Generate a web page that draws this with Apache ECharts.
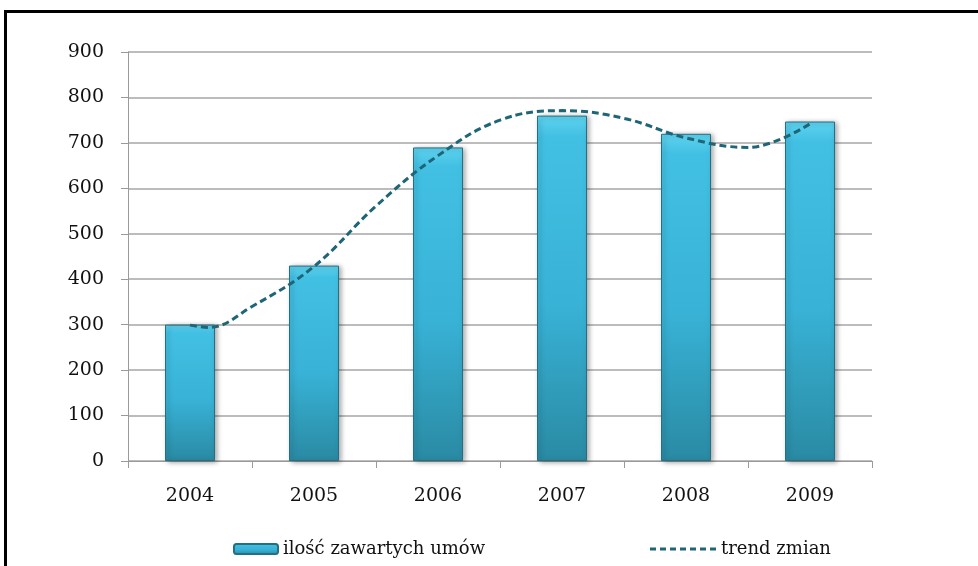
<!DOCTYPE html>
<html>
<head>
<meta charset="utf-8">
<script src="https://cdn.jsdelivr.net/npm/echarts@6/dist/echarts.min.js"></script>
<style>html,body{margin:0;padding:0;background:#fff;}#c{width:978px;height:566px;}</style>
</head>
<body>
<div id="c"></div>
<script>
var years = ['2004', '2005', '2006', '2007', '2008', '2009'];
var contracts = [300, 430, 690, 760, 720, 747];
// trend line at category positions (index units)
var trendPos = [0, 0.15, 0.5, 1, 1.5, 2, 2.5, 3, 3.5, 4, 4.5, 5];
var trendVal = [299, 294, 340, 428, 561, 672, 750, 771, 754, 711, 690, 742];
var yTicks = {min: 0, max: 900, interval: 100};
var barName = 'ilość zawartych umów';
var trendName = 'trend zmian';

var font = 'DejaVu Serif';
var chart = echarts.init(document.getElementById('c'));
var trendData = trendPos.map(function (p, i) { return [p, trendVal[i]]; });

// dashed-line legend icon (7 dashes)
var dashPath = 'path://';
for (var k = 0; k < 7; k++) {
  var x0 = k * 10;
  dashPath += 'M' + x0 + ',0h6v3h-6z';
}

chart.setOption({
  backgroundColor: '#fff',
  animation: false,
  graphic: [{
    type: 'rect',
    shape: {x: 5.5, y: 11.5, width: 1000, height: 600},
    style: {fill: 'none', stroke: '#000', lineWidth: 3},
    z: 0
  }],
  grid: {left: 128, right: 106, top: 52, bottom: 105},
  legend: [{
    data: [barName],
    left: 228, top: 535,
    itemWidth: 44, itemHeight: 10, itemGap: 8,
    textStyle: {fontFamily: font, fontSize: 18, color: '#111'}
  }, {
    data: [{name: trendName, icon: dashPath, itemStyle: {color: '#1e6577', borderWidth: 0}}],
    left: 645, top: 535,
    itemWidth: 66, itemHeight: 3, itemGap: 6,
    textStyle: {fontFamily: font, fontSize: 18, color: '#111'}
  }],
  xAxis: [{
    type: 'category',
    data: years,
    boundaryGap: true,
    axisLine: {lineStyle: {color: '#9a9a9a', width: 1}},
    axisTick: {show: true, length: 7, lineStyle: {color: '#9a9a9a'}},
    axisLabel: {fontFamily: font, fontSize: 19, color: '#111', margin: 26},
    splitLine: {show: false}
  }, {
    type: 'value',
    min: -0.5, max: 5.5,
    show: false
  }],
  yAxis: {
    type: 'value',
    min: yTicks.min, max: yTicks.max, interval: yTicks.interval,
    axisLine: {show: true, onZero: false, lineStyle: {color: '#9a9a9a', width: 1}},
    axisTick: {show: true, length: 7, lineStyle: {color: '#9a9a9a'}},
    axisLabel: {fontFamily: font, fontSize: 19, color: '#111', margin: 24},
    splitLine: {lineStyle: {color: '#a6a6a6', width: 1.5}}
  },
  series: [{
    name: barName,
    type: 'bar',
    data: contracts,
    barWidth: 50,
    itemStyle: {
      color: new echarts.graphic.LinearGradient(0, 0, 0, 1, [
        {offset: 0, color: '#5fd3f0'},
        {offset: 0.06, color: '#42c0e3'},
        {offset: 0.55, color: '#38b2d6'},
        {offset: 1, color: '#2a8aa3'}
      ]),
      borderColor: '#256f82',
      borderWidth: 1,
      shadowColor: 'rgba(0,0,0,0.35)',
      shadowBlur: 5,
      shadowOffsetX: 2,
      shadowOffsetY: 1
    },
    z: 2
  }, {
    name: trendName,
    type: 'line',
    xAxisIndex: 1,
    data: trendData,
    smooth: 0.4,
    symbol: 'none',
    lineStyle: {color: '#1e6577', width: 3, type: [7, 4]},
    itemStyle: {color: '#1e6577'},
    z: 3
  }]
});
</script>
</body>
</html>
